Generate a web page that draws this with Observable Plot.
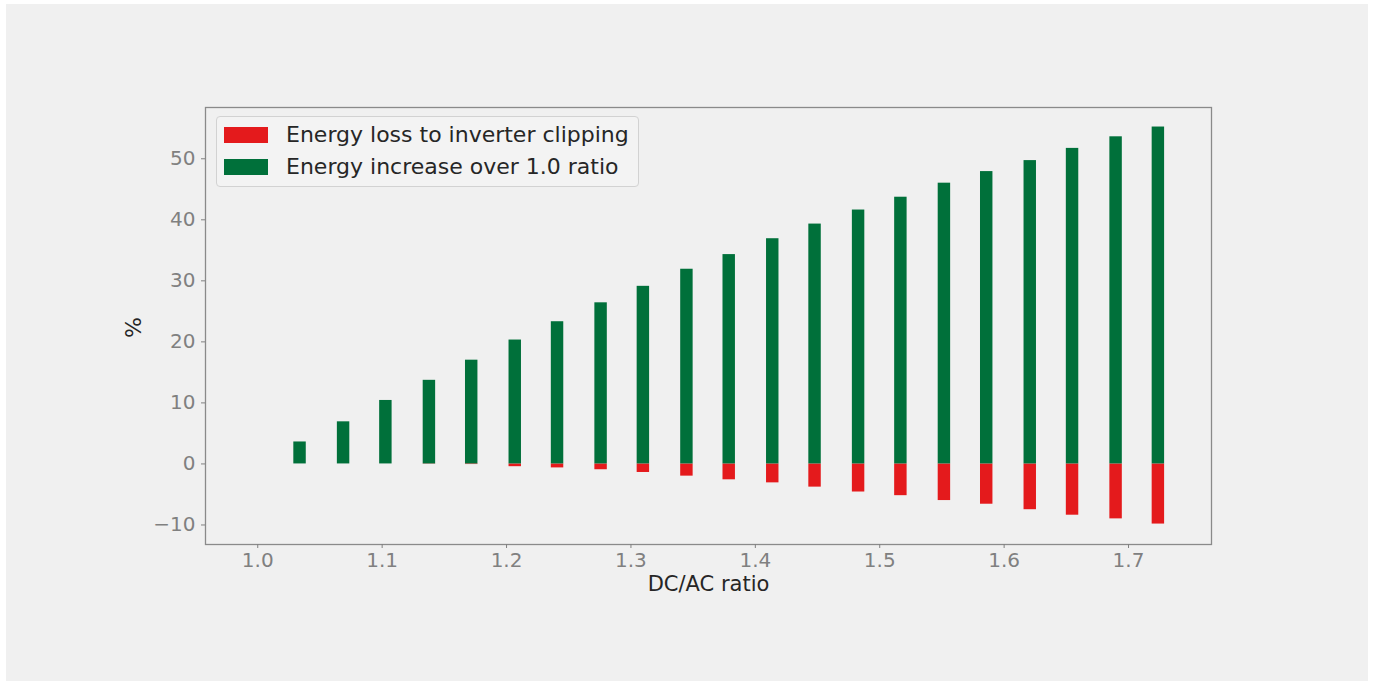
<!DOCTYPE html>
<html>
<head>
<meta charset="utf-8">
<script src="https://cdn.jsdelivr.net/npm/d3@7"></script>
<script src="https://cdn.jsdelivr.net/npm/@observablehq/plot@0.6"></script>
<style>
  html, body { margin: 0; padding: 0; background: #ffffff; width: 1375px; height: 681px; overflow: hidden; }
  #bg { position: absolute; left: 6px; top: 4px; width: 1362px; height: 677px; background: #f0f0f0; }
  #chart { position: absolute; left: 0; top: 0; }
  #legend { position: absolute; left: 216px; top: 116px; width: 423px; height: 71px; box-sizing: border-box;
            border: 1px solid #d2d2d2; border-radius: 4px; background: #f3f3f3;
            font-family: "DejaVu Sans", sans-serif; font-size: 22px; color: #262626; }
  .row { position: absolute; left: 0; height: 30px; display: flex; align-items: center; }
  .sw { position: absolute; left: 7px; width: 44px; height: 16px; }
  .lab { position: absolute; left: 69px; white-space: nowrap; line-height: 30px; }
</style>
</head>
<body>
<div id="bg"></div>
<div id="chart"></div>
<div id="legend"></div>
<script>
// DC/AC ratio of each bar
const ratios = [1.000, 1.034, 1.069, 1.103, 1.138, 1.172, 1.207, 1.241, 1.276, 1.310, 1.345,
                1.379, 1.414, 1.448, 1.483, 1.517, 1.552, 1.586, 1.621, 1.655, 1.690, 1.724];
// Energy increase over 1.0 ratio (%)
const gainPct = [0, 3.6, 6.9, 10.4, 13.7, 17.0, 20.3, 23.3, 26.4, 29.1, 31.9,
                 34.3, 36.9, 39.3, 41.6, 43.7, 46.0, 47.9, 49.7, 51.7, 53.6, 55.2];
// Energy loss to inverter clipping (%)
const lossPct = [0, 0, 0, 0, -0.05, -0.1, -0.45, -0.65, -0.95, -1.4, -2.0,
                 -2.6, -3.1, -3.8, -4.6, -5.2, -6.0, -6.6, -7.5, -8.4, -9.0, -9.85];
const seriesNames = ["Energy loss to inverter clipping", "Energy increase over 1.0 ratio"];
const seriesColors = ["#e41a1c", "#00703a"];
const xTicks = [1.0, 1.1, 1.2, 1.3, 1.4, 1.5, 1.6, 1.7];
const yTicks = [-10, 0, 10, 20, 30, 40, 50];
const barWidth = 0.01;

const rows = [];
ratios.forEach((r, i) => {
  rows.push({ratio: r, value: lossPct[i], series: seriesNames[0]});
  rows.push({ratio: r, value: gainPct[i], series: seriesNames[1]});
});

const font = "'DejaVu Sans', sans-serif";
const plot = Plot.plot({
  width: 1375,
  height: 681,
  marginLeft: 205,
  marginRight: 164,
  marginTop: 107,
  marginBottom: 137,
  style: { background: "transparent", fontFamily: font, fontSize: "20px", overflow: "visible" },
  x: { type: "linear", domain: [0.958, 1.7667] },
  y: { domain: [-13.2, 58.4] },
  color: { domain: seriesNames, range: seriesColors },
  marks: [
    Plot.rectY(rows, {
      x1: d => d.ratio - barWidth / 2,
      x2: d => d.ratio + barWidth / 2,
      y1: 0,
      y2: "value",
      fill: "series"
    }),
    Plot.frame({ stroke: "#8a8a8a", strokeWidth: 1.3 }),
    Plot.axisX(xTicks, { tickFormat: d3.format(".1f"), tickSize: 4, tickPadding: 4, color: "#808080",
                         fontSize: 20, label: null }),
    Plot.axisY(yTicks, { tickFormat: d => d < 0 ? "\u2212" + Math.abs(d) : String(d), tickSize: 4,
                         tickPadding: 6, color: "#808080", fontSize: 20, label: null }),
    Plot.text(["DC/AC ratio"], { frameAnchor: "bottom", dy: 46, text: d => d, fill: "#262626",
                                 fontSize: 21 }),
    Plot.text(["%"], { frameAnchor: "left", dx: -72, dy: 12, rotate: -90, text: d => d, fill: "#262626",
                       fontSize: 22 })
  ]
});
document.getElementById("chart").appendChild(plot);

const legend = document.getElementById("legend");
seriesNames.forEach((name, i) => {
  const top = i === 0 ? 3 : 35;
  const row = document.createElement("div");
  row.className = "row";
  row.style.top = top + "px";
  row.style.width = "100%";
  const sw = document.createElement("div");
  sw.className = "sw";
  sw.style.background = seriesColors[i];
  sw.style.top = "7px";
  const lab = document.createElement("div");
  lab.className = "lab";
  lab.style.top = "0px";
  lab.textContent = name;
  row.appendChild(sw);
  row.appendChild(lab);
  legend.appendChild(row);
});
</script>
</body>
</html>
